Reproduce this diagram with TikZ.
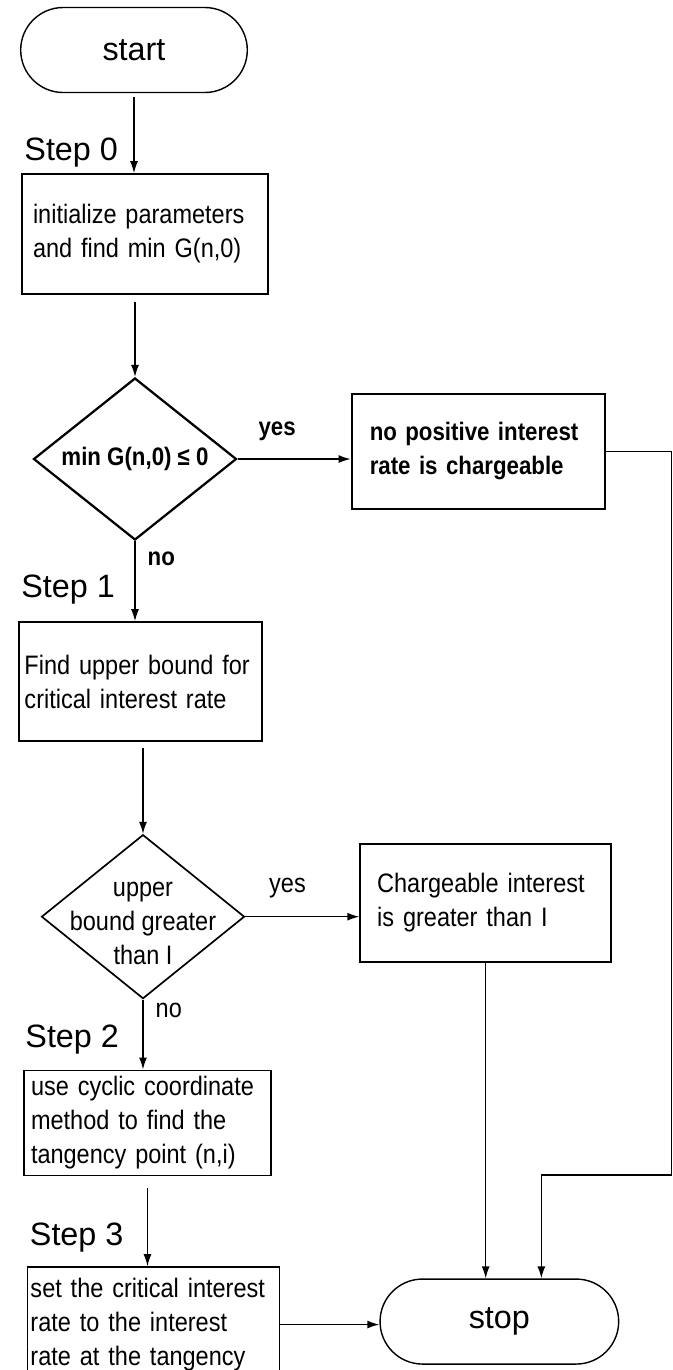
\documentclass[tikz,border=0pt]{standalone}
\usepackage{fontspec}
\setmainfont{Liberation Sans}
\newfontfamily\narrowfont[FakeStretch=0.88]{Liberation Sans}
\usetikzlibrary{arrows.meta, positioning, shapes.geometric, shapes.misc}
\newcommand{\stepfont}{\fontsize{23}{28}\selectfont}
\newcommand{\boxfont}{\narrowfont\fontsize{19}{24.2}\selectfont}
\newcommand{\boldboxfont}{\narrowfont\bfseries\fontsize{18}{24.2}\selectfont}
\tikzset{
    % Flowchart shapes
    terminal/.style={draw, rounded rectangle, line width=1pt, minimum width=5.9cm, minimum height=2.125cm, font=\stepfont},
    stepbox/.style={draw, line width=1.2pt, align=left, font=\boxfont},
    decision/.style={draw, diamond, aspect=1.25, inner sep=0pt, line width=1.2pt, minimum width=5.075cm, font=\boxfont},
    % Texts beside the shapes
    steplabel/.style={inner sep=0pt, font=\stepfont},
    answer/.style={inner sep=0pt, font=\boxfont},
    % Connectors
    flow/.style={-{Latex[length=3mm, width=2mm]}, line width=1pt}
}

\begin{document}
\begin{tikzpicture}
    \useasboundingbox (0,0) rectangle (16.825,-34.25);

    % Start and step 0
    \node[terminal] (start) at (3.35,-1.25) {start};
    \node[stepbox, below=2cm of start, xshift=0.275cm, text width=5.6cm, inner xsep=0.275cm, minimum height=3cm] (init) {initialize parameters\\and find min G(n,0)};
    \node[steplabel, above right=0.15cm and 0.075cm of init.north west] (step0) {Step 0};

    % First test
    \node[decision, line width=1.6pt, font=\boldboxfont, minimum height=4.05cm, below=2.05cm of init, xshift=-0.25cm] (test1) {min G(n,0) ≤ 0};
    \node[stepbox, line width=1.6pt, font=\boldboxfont, text width=5.425cm, inner xsep=0.45cm, minimum height=2.875cm, right=2.825cm of test1, yshift=0.19cm] (nopos) {no positive interest\\rate is chargeable};

    % Step 1
    \node[stepbox, text width=5.8cm, inner xsep=0.14cm, minimum height=2.975cm, below=2cm of test1, xshift=0.1375cm] (bound) {Find upper bound for\\critical interest rate};
    \node[steplabel, above right=0.425cm and 0.075cm of bound.north west] (step1) {Step 1};

    % Second test
    \node[decision, minimum height=4.1cm, below=2.3cm of bound, xshift=0.0625cm,
          label={[answer, align=center, yshift=-0.18cm]center:upper\\bound greater\\than I}] (test2) {};
    \node[stepbox, text width=5.425cm, inner xsep=0.425cm, minimum height=2.95cm, right=2.85cm of test2, yshift=0.35cm] (greater) {Chargeable interest\\is greater than I};

    % Step 2
    \node[stepbox, text width=5.825cm, inner xsep=0.175cm, minimum height=2.625cm, below=1.75cm of test2, xshift=0.1125cm] (cyclic) {use cyclic coordinate\\method to find the\\tangency point (n,i)};
    \node[steplabel, above right=0.375cm and 0.05cm of cyclic.north west] (step2) {Step 2};

    % Step 3
    \node[stepbox, text width=6.15cm, inner xsep=0.075cm, minimum height=2.875cm, below=2.25cm of cyclic, xshift=0.15cm] (setrate) {set the critical interest\\rate to the interest\\rate at the tangency};
    \node[steplabel, above right=0.35cm and 0.075cm of setrate.north west] (step3) {Step 3};

    % Stop
    \node[terminal, minimum width=6.2cm, right=2.475cm of setrate, yshift=0.075cm] (stop) {stop};
    \coordinate (ret) at (16.79,-29.375);

    % Main line
    \draw[flow, shorten <=0.1cm] (start.south) -- (start.south |- init.north);
    \draw[flow, shorten <=0.175cm] (test1.north |- init.south) -- (test1.north);
    \draw[flow] (test1.south) -- node[answer, font=\boldboxfont, right=0.3cm, pos=0.22] (no1) {no} (test1.south |- bound.north);
    \draw[flow, shorten <=0.15cm] (test2.north |- bound.south) -- (test2.north);
    \draw[flow] (test2.south) -- node[answer, right=0.3cm, pos=0.16] (no2) {no} (test2.south |- cyclic.north);
    \draw[flow, shorten <=0.3cm] (cyclic.south) -- (cyclic.south |- setrate.north);
    \draw[flow] (setrate.east) -- (setrate.east -| stop.west);

    % Yes branches
    \draw[flow] (test1.east) -- node[answer, font=\boldboxfont, above=0.45cm, pos=0.35] (yes1) {yes} (test1.east -| nopos.west);
    \draw[flow] (test2.east) -- node[answer, above=0.45cm, pos=0.37] (yes2) {yes} (test2.east -| greater.west);
    \draw[flow] (greater.south) -- (greater.south |- stop.north);
    \draw[flow] (nopos.east) -| (ret) -| ([xshift=1.05cm]stop.north);
\end{tikzpicture}
\end{document}
